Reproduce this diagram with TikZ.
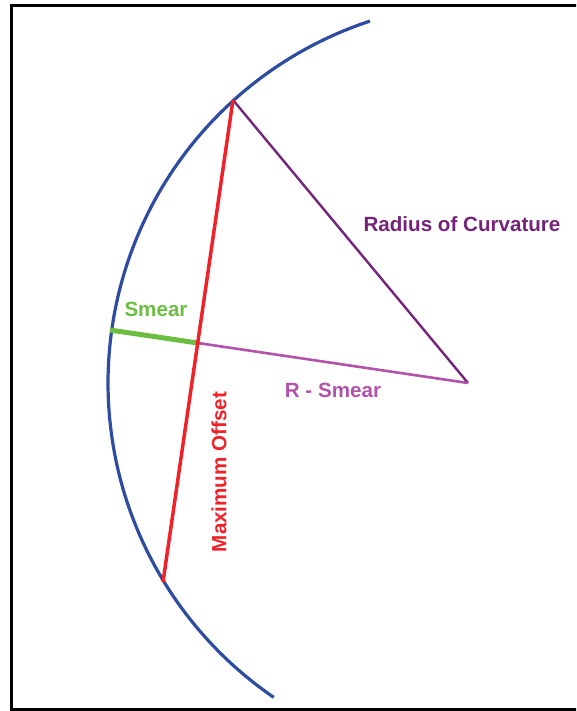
\documentclass[tikz,border=0pt]{standalone}
\usepackage{fontspec}
\setmainfont{Liberation Sans}
\usetikzlibrary{calc}

\definecolor{arcblue}{RGB}{46,76,160}
\definecolor{offred}{RGB}{238,34,40}
\definecolor{smeargreen}{RGB}{108,190,66}
\definecolor{radpurple}{RGB}{118,36,122}
\definecolor{restpurple}{RGB}{178,82,170}

\begin{document}
\begin{tikzpicture}[
    x=1pt, y=-1pt,
    font=\fontsize{20.6}{24}\selectfont\bfseries,
    arcline/.style={draw=arcblue, line width=3.2pt},
    offline/.style={draw=offred, line width=3.5pt},
    smearline/.style={draw=smeargreen, line width=5pt},
    radline/.style={draw=radpurple, line width=2.4pt},
    restline/.style={draw=restpurple, line width=2.6pt},
    lbl/.style={inner sep=0pt, anchor=center}
]
\useasboundingbox (0,0) rectangle (576,711);
\clip (0,0) rectangle (576,711);

% frame
\draw[line width=3pt] (11.5,5.5) rectangle (590,709.5);

% points
\coordinate (centre) at (489,383);
\coordinate (top)    at (233,100);
\coordinate (bottom) at (163,582);
\coordinate (apex)   at (468,383);
\coordinate (rim)    at (110,330);
\coordinate (cross)  at (intersection of top--bottom and rim--apex);

% mirror arc
\draw[arcline] plot[domain=124.4:251.8, samples=120]
    ({489+381*cos(\x)}, {383+381*sin(\x)});

% lines
\draw[radline] (top) -- (apex);
\draw[restline] (cross) -- (apex);
\draw[smearline] (rim) -- (cross);
\draw[offline] (top) -- (bottom);

% labels
\node[lbl, text=radpurple]  (radlbl)   at (462,224) {Radius of Curvature};
\node[lbl, text=restpurple] (restlbl)  at (333,390) {R - Smear};
\node[lbl, text=smeargreen] (smearlbl) at (156,309) {Smear};
\node[lbl, text=offred, rotate=90] (offlbl) at (219,472) {Maximum Offset};

\end{tikzpicture}
\end{document}
